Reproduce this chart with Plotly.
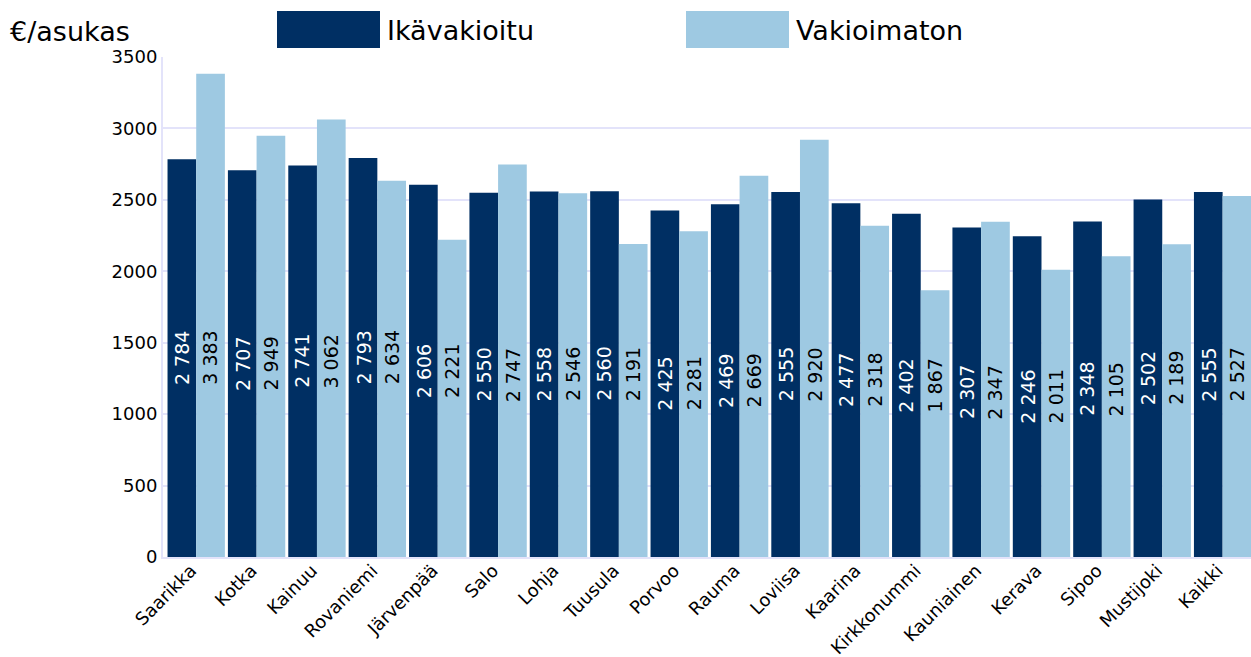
import plotly.graph_objects as go
import numpy as np

categories = ["Saarikka", "Kotka", "Kainuu", "Rovaniemi", "Järvenpää", "Salo", "Lohja",
              "Tuusula", "Porvoo", "Rauma", "Loviisa", "Kaarina", "Kirkkonummi",
              "Kauniainen", "Kerava", "Sipoo", "Mustijoki", "Kaikki"]
ikavakioitu = [2784, 2707, 2741, 2793, 2606, 2550, 2558, 2560, 2425, 2469, 2555, 2477,
               2402, 2307, 2246, 2348, 2502, 2555]
vakioimaton = [3383, 2949, 3062, 2634, 2221, 2747, 2546, 2191, 2281, 2669, 2920, 2318,
               1867, 2347, 2011, 2105, 2189, 2527]
series_names = ["Ikävakioitu", "Vakioimaton"]
yticks = [0, 500, 1000, 1500, 2000, 2500, 3000, 3500]
unit_label = "€/asukas"

DARK = "#002f63"
LIGHT = "#9ec9e2"
FONT = "DejaVu Sans"
GRID = "#e3e3fa"

x = np.arange(len(categories))
bargap = 0.05
bw = (1 - bargap) / 2

fig = go.Figure()
fig.add_trace(go.Bar(x=x, y=ikavakioitu, name=series_names[0], marker_color=DARK,
                     marker_line_width=0))
fig.add_trace(go.Bar(x=x, y=vakioimaton, name=series_names[1], marker_color=LIGHT,
                     marker_line_width=0))


def fmt(v):
    return f"{v:,}".replace(",", " ")


# Data labels: both labels of a group sit at mid-height of the dark bar
for i in range(len(categories)):
    mid = ikavakioitu[i] / 2
    fig.add_annotation(x=x[i] - bw / 2, y=mid, text=fmt(ikavakioitu[i]), textangle=-90,
                       showarrow=False, font=dict(family=FONT, size=19, color="white"),
                       xref="x", yref="y")
    fig.add_annotation(x=x[i] + bw / 2, y=mid, text=fmt(vakioimaton[i]), textangle=-90,
                       showarrow=False, font=dict(family=FONT, size=19, color="black"),
                       xref="x", yref="y")

W, H = 1251, 657
ml, mr, mt, mb = 163, 0, 57, 100
pw, ph = W - ml - mr, H - mt - mb


def px_to_paper_x(px):
    return (px - ml) / pw


def px_to_paper_y(py):
    return (H - mb - py) / ph


fig.add_annotation(x=px_to_paper_x(8), y=px_to_paper_y(32), xref="paper", yref="paper",
                   text=unit_label, showarrow=False, xanchor="left", yanchor="middle",
                   font=dict(family=FONT, size=27, color="black"))

# Custom legend (large swatches)
legend_items = [(series_names[0], DARK, 277), (series_names[1], LIGHT, 686)]
for name, col, x0 in legend_items:
    fig.add_shape(type="rect", xref="paper", yref="paper",
                  x0=px_to_paper_x(x0), x1=px_to_paper_x(x0 + 103),
                  y0=px_to_paper_y(48), y1=px_to_paper_y(11),
                  fillcolor=col, line_width=0)
    fig.add_annotation(x=px_to_paper_x(x0 + 108), y=px_to_paper_y(31), xref="paper", yref="paper",
                       text=name, showarrow=False, xanchor="left", yanchor="middle",
                       font=dict(family=FONT, size=27, color="black"))

fig.update_layout(
    width=W, height=H,
    barmode="group", bargap=bargap, bargroupgap=0,
    showlegend=False,
    plot_bgcolor="white", paper_bgcolor="white",
    margin=dict(l=ml, r=mr, t=mt, b=mb, autoexpand=False),
    font=dict(family=FONT, size=18, color="black"),
    xaxis=dict(tickmode="array", tickvals=x, ticktext=categories, tickangle=-45,
               range=[-0.55, len(categories) - 0.53], showgrid=False, showline=True,
               linecolor=GRID, linewidth=2, ticks="", tickfont=dict(size=18),
               ticklabelstandoff=-6, ticklabelshift=-5, automargin=False),
    yaxis=dict(range=[0, 3500], tickvals=yticks, showgrid=True, gridcolor=GRID, gridwidth=2,
               showline=True, linecolor=GRID, linewidth=2, zeroline=False, ticks="",
               tickfont=dict(size=18), automargin=False),
)

fig.write_html("out.html", config={"displayModeBar": False},
               post_script="document.body.style.margin='0';document.body.style.overflow='hidden';")
